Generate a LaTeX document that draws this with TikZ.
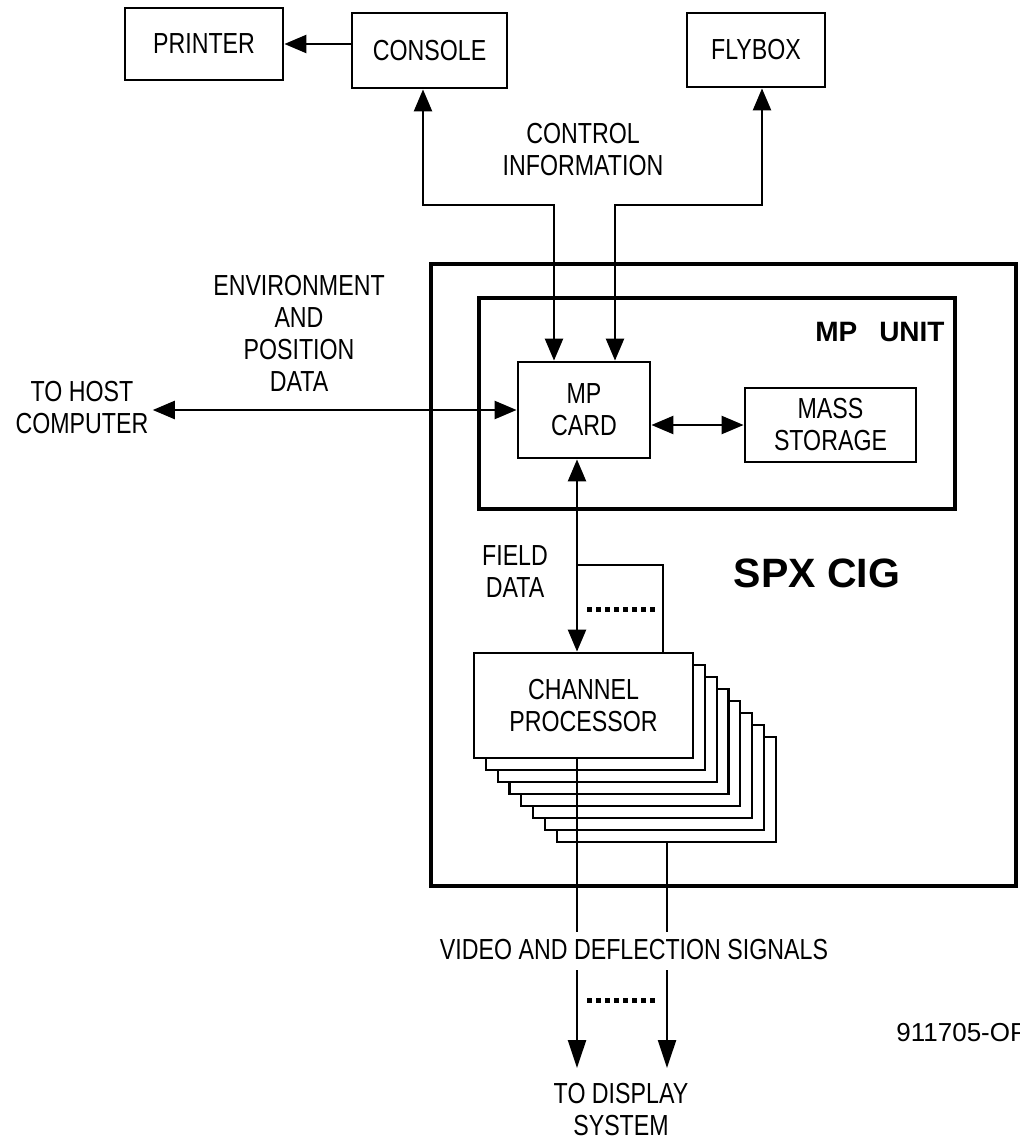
\documentclass[tikz,border=0pt]{standalone}
\usepackage{fontspec}
\setmainfont{Liberation Sans}
\newfontfamily\narrowfont[FakeStretch=0.8]{Liberation Sans}
\usetikzlibrary{arrows.meta, positioning}

\begin{document}
\begin{tikzpicture}[
  x=0.5pt, y=-0.5pt,
  box/.style={draw, line width=1.4pt, fill=white, inner sep=0pt, align=center,
    font=\narrowfont\fontsize{14.5}{16}\selectfont},
  frame/.style={draw, line width=2.4pt, inner sep=0pt},
  card/.style={draw, line width=1.1pt, fill=white, inner sep=0pt,
    minimum width=109.5pt, minimum height=52.5pt},
  lbl/.style={inner sep=1pt, align=center, font=\narrowfont\fontsize{14.5}{16}\selectfont},
  line/.style={line width=1.2pt},
  arrow/.style={-{Triangle[length=11pt, width=9pt]}, line width=1.2pt},
  darrow/.style={{Triangle[length=11pt, width=9pt]}-{Triangle[length=11pt, width=9pt]}, line width=1.2pt},
  bigarrow/.style={-{Triangle[length=14pt, width=9pt]}, line width=1.2pt},
  dots/.style={line width=2.5pt, dash pattern=on 2.5pt off 2pt}
]
\useasboundingbox (0,0) rectangle (1019,1145);

% Peripherals
\node[box, minimum width=79pt, minimum height=36pt] (printer) at (204,44) {PRINTER};
\node[box, minimum width=77.5pt, minimum height=37.5pt] (console) at (429.5,50.5) {CONSOLE};
\node[box, minimum width=69pt, minimum height=37pt] (flybox) at (756,50) {FLYBOX};
\node[lbl] (ctrl) at (583,150) {CONTROL\\INFORMATION};

% SPX CIG and MP unit
\node[frame, minimum width=292.5pt, minimum height=311pt] (spx) at (723.5,575) {};
\node[frame, minimum width=238pt, minimum height=105.5pt] (mpunit) at (717,403.5) {};
\node[anchor=east, inner sep=0pt, font=\bfseries\fontsize{14}{16}\selectfont]
  (mplabel) at (945,332) {MP\hspace{11pt}UNIT};
\node[inner sep=0pt, font=\bfseries\fontsize{20.5}{22}\selectfont] (spxlabel) at (817,573) {SPX CIG};
\node[box, minimum width=66pt, minimum height=48pt] (mpcard) at (584,410) {MP\\CARD};
\node[box, minimum width=85.5pt, minimum height=37pt] (mass) at (830.5,425) {MASS\\STORAGE};

% Host side
\node[lbl] (envdata) at (299,333) {ENVIRONMENT\\AND\\POSITION\\DATA};
\node[lbl, inner sep=2pt] (host) at (82,408) {TO HOST\\COMPUTER};

% Channel processors (stack, back to front)
\foreach \i in {7,...,1}
  \node[card] (cp\i) at (583.5+11.8*\i, 705.5+12*\i) {};
\node[box, minimum width=109.5pt, minimum height=52.5pt] (cp0) at (583.5,705.5) {CHANNEL\\PROCESSOR};
\node[lbl] (field) at (515,572) {FIELD\\DATA};

% Outputs
\node[lbl] (video) at (634,950) {VIDEO AND DEFLECTION SIGNALS};
\node[lbl] (display) at (621,1110) {TO DISPLAY\\SYSTEM};
\node[anchor=west, inner sep=0pt, font=\fontsize{13}{15}\selectfont] (tag) at (896,1033) {911705-OP};

% Helper points
\coordinate (c1) at (423,205);
\coordinate (c2) at (554,205);
\coordinate (f1) at (615,205);
\coordinate (f2) at (762,205);
\coordinate (fd) at (577,565);
\coordinate (fd2) at (663,565);
\coordinate (v1) at (577,932);
\coordinate (v2) at (667,932);
\coordinate (w1) at (577,970);
\coordinate (w2) at (667,970);
\coordinate (t1) at (577,1068);
\coordinate (t2) at (667,1068);

% Connectors
\draw[arrow] (console.west |- printer.east) -- (printer.east);
\draw[darrow] (console.south -| c1) -- (c1) -- (c2) -- (c2 |- mpcard.north);
\draw[darrow] (flybox.south -| f2) -- (f2) -- (f1) -- (f1 |- mpcard.north);
\draw[darrow] (host.east |- mpcard.west) -- (mpcard.west);
\draw[darrow] (mpcard.east |- mass.west) -- (mass.west);
\draw[darrow] (mpcard.south -| fd) -- (cp0.north -| fd);
\draw[line] (fd) -- (fd2) -- (fd2 |- cp0.north);
\draw[dots] (587,609) -- (657,609);

\draw[line] (cp0.south -| v1) -- (v1);
\draw[line] (cp7.south -| v2) -- (v2);
\draw[bigarrow] (w1) -- (t1);
\draw[bigarrow] (w2) -- (t2);
\draw[dots] (587,1000) -- (656,1000);

\end{tikzpicture}
\end{document}
